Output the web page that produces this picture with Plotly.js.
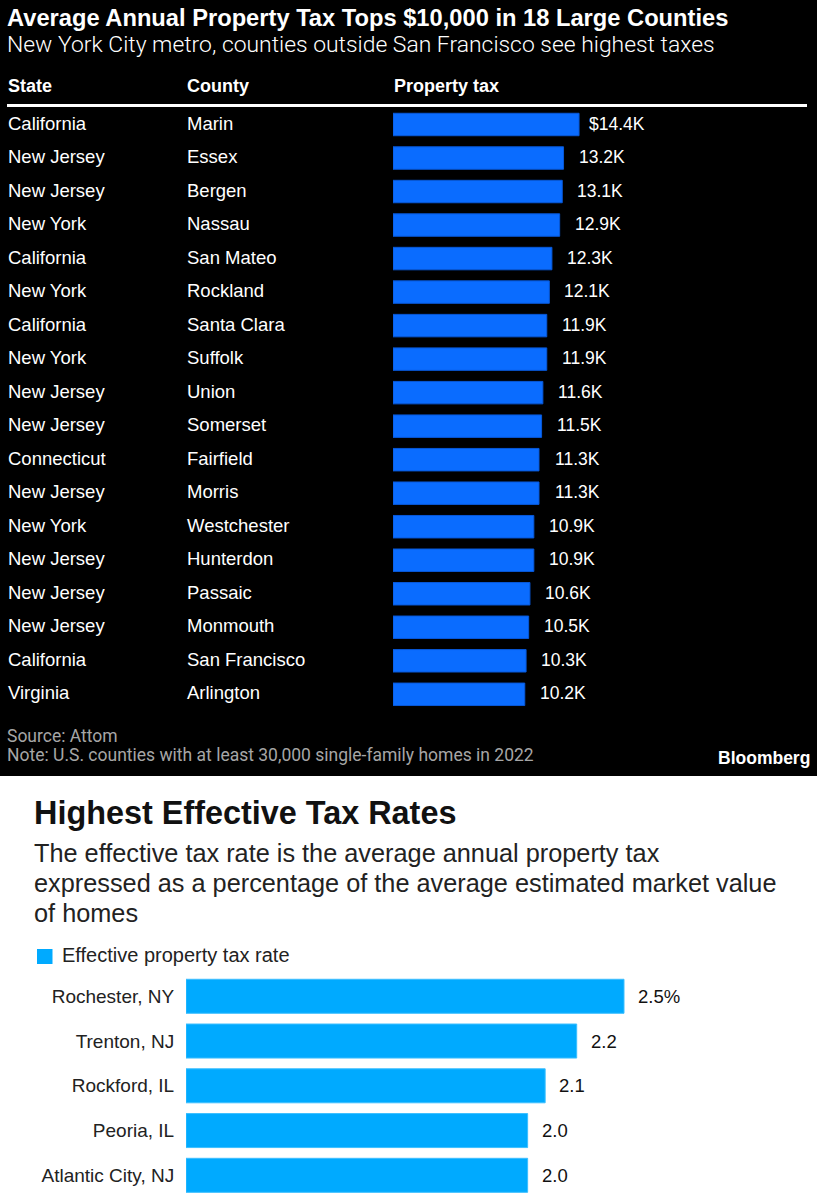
<!DOCTYPE html>
<html><head><meta charset="utf-8">
<script src="https://cdn.plot.ly/plotly-3.0.1.min.js"></script>
<style>html,body{margin:0;padding:0;background:#fff}#chart{width:817px;height:1200px}</style>
</head><body><div id="chart"></div>
<script>
// ---- Chart 1 data: average annual property tax ($K) ----
var states = ["California","New Jersey","New Jersey","New York","California","New York","California","New York","New Jersey","New Jersey","Connecticut","New Jersey","New York","New Jersey","New Jersey","New Jersey","California","Virginia"];
var counties = ["Marin","Essex","Bergen","Nassau","San Mateo","Rockland","Santa Clara","Suffolk","Union","Somerset","Fairfield","Morris","Westchester","Hunterdon","Passaic","Monmouth","San Francisco","Arlington"];
var taxK = [14.4,13.2,13.1,12.9,12.3,12.1,11.9,11.9,11.6,11.5,11.3,11.3,10.9,10.9,10.6,10.5,10.3,10.2];
var taxLabels = ["$14.4K","13.2K","13.1K","12.9K","12.3K","12.1K","11.9K","11.9K","11.6K","11.5K","11.3K","11.3K","10.9K","10.9K","10.6K","10.5K","10.3K","10.2K"];
var headers = ["State","County","Property tax"];
var title1 = "Average Annual Property Tax Tops $10,000 in 18 Large Counties";
var subtitle1 = "New York City metro, counties outside San Francisco see highest taxes";
var sourceText = "Source: Attom";
var noteText = "Note: U.S. counties with at least 30,000 single-family homes in 2022";

// ---- Chart 2 data: effective property tax rate (%) ----
var cities = ["Rochester, NY","Trenton, NJ","Rockford, IL","Peoria, IL","Atlantic City, NJ"];
var rates = [2.5,2.23,2.05,1.95,1.95];
var rateLabels = ["2.5%","2.2","2.1","2.0","2.0"];
var title2 = "Highest Effective Tax Rates";
var subtitle2 = ["The effective tax rate is the average annual property tax","expressed as a percentage of the average estimated market value","of homes"];
var legendName = "Effective property tax rate";

// ---- helpers (pixel -> paper) ----
var W = 817, H = 1200;
function px(x){ return x / W; }
function py(y){ return 1 - y / H; }

var SANS = "'Liberation Sans', Arial, Helvetica, sans-serif";

var traces = [
  {type:'bar', orientation:'h', x: taxK, y: counties, xaxis:'x', yaxis:'y',
   marker:{color:'#0a6cff', line:{color:'#0858d8', width:1}}, width:0.67, hoverinfo:'skip', showlegend:false},
  {type:'bar', orientation:'h', x: rates, y: cities, xaxis:'x2', yaxis:'y2',
   marker:{color:'#00aaff', line:{color:'#3cbfff', width:1}}, width:0.76, hoverinfo:'skip', showlegend:false}
];

var ann = [];
function A(o){ var base={showarrow:false, borderpad:0, xanchor:'left', yanchor:'middle', align:'left'}; for(var k in o) base[k]=o[k]; ann.push(base); }

// Chart 1 title and subtitle
A({xref:'paper', yref:'paper', x:px(6), y:py(17.6), text:'<b>'+title1+'</b>',
   font:{family:SANS, size:23.7, color:'#ffffff'}});
A({xref:'paper', yref:'paper', x:px(6), y:py(44.3), text:subtitle1,
   font:{family:'Roboto', size:22.9, color:'#ffffff', weight:300}});
// headers
var headerX = [7,186,393];
headers.forEach(function(h,i){
  A({xref:'paper', yref:'paper', x:px(headerX[i]), y:py(86), text:'<b>'+h+'</b>', font:{family:SANS, size:18, color:'#ffffff'}});
});
// state / county columns and value labels
counties.forEach(function(c,i){
  A({xref:'paper', yref:'y', x:px(7), y:c, yshift:1.5, text:states[i], font:{family:SANS, size:18.5, color:'#ffffff'}});
  A({xref:'paper', yref:'y', x:px(186), y:c, yshift:1.5, text:c, font:{family:SANS, size:18.5, color:'#ffffff'}});
  A({xref:'x', yref:'y', x:taxK[i], y:c, yshift:1, xanchor:'center', xshift:38, text:taxLabels[i], font:{family:SANS, size:17.5, color:'#ffffff'}});
});
// footer (line pitch 19px)
A({xref:'paper', yref:'paper', x:px(6), y:py(745),
   text:'<span style="font-size:17.5px">'+sourceText+'</span><br><span style="font-size:17.5px">'+noteText+'</span>',
   font:{family:'Roboto', size:14.6, color:'#a6a6a6'}});
A({xref:'paper', yref:'paper', x:px(811), xanchor:'right', y:py(758), text:'<b>Bloomberg</b>', font:{family:SANS, size:17.5, color:'#ffffff'}});

// Chart 2 title + subtitle
A({xref:'paper', yref:'paper', x:px(33), y:py(813), text:'<b>'+title2+'</b>', font:{family:SANS, size:32.4, color:'#111111'}});
A({xref:'paper', yref:'paper', x:px(33), y:py(883),
   text: subtitle2.map(function(t){ return '<span style="font-size:25.3px">'+t+'</span>'; }).join('<br>'),
   font:{family:SANS, size:23.1, color:'#222222'}});
A({xref:'paper', yref:'paper', x:px(61), y:py(955), text:legendName, font:{family:SANS, size:20, color:'#222222'}});
cities.forEach(function(c,i){
  A({xref:'x2', yref:'y2', x:rates[i], y:c, xshift:13, text:rateLabels[i], font:{family:SANS, size:18.5, color:'#111111'}});
});

var shapes = [
  {type:'rect', xref:'paper', yref:'paper', x0:0, x1:1, y0:py(776), y1:1, fillcolor:'#000000', line:{width:0}, layer:'below'},
  {type:'line', xref:'paper', yref:'paper', x0:px(7), x1:px(807), y0:py(105.5), y1:py(105.5), line:{color:'#ffffff', width:3}},
  {type:'rect', xref:'paper', yref:'paper', x0:px(37), x1:px(52.5), y0:py(964), y1:py(949), fillcolor:'#00aaff', line:{width:0}}
];

var layout = {
  width:W, height:H, margin:{l:0,r:0,t:0,b:0}, paper_bgcolor:'#ffffff', plot_bgcolor:'rgba(0,0,0,0)',
  showlegend:false, bargap:0,
  xaxis:{domain:[px(393),1], range:[0, 424/12.92], visible:false, fixedrange:true},
  yaxis:{domain:[py(711.06), py(107.74)], type:'category', range:[17.5,-0.5], visible:false, fixedrange:true},
  xaxis2:{domain:[px(186),1], range:[0, 631/175.2], visible:false, anchor:'y2', fixedrange:true},
  yaxis2:{domain:[py(1197.7), py(973.9)], type:'category', range:[4.5,-0.5], anchor:'x2',
    showgrid:false, zeroline:false, showline:false, ticks:'outside', ticklen:7, tickcolor:'rgba(0,0,0,0)',
    tickfont:{family:SANS, size:19, color:'#222222'}, fixedrange:true},
  annotations: ann, shapes: shapes
};
Plotly.newPlot('chart', traces, layout, {staticPlot:true, displayModeBar:false});
</script></body></html>
